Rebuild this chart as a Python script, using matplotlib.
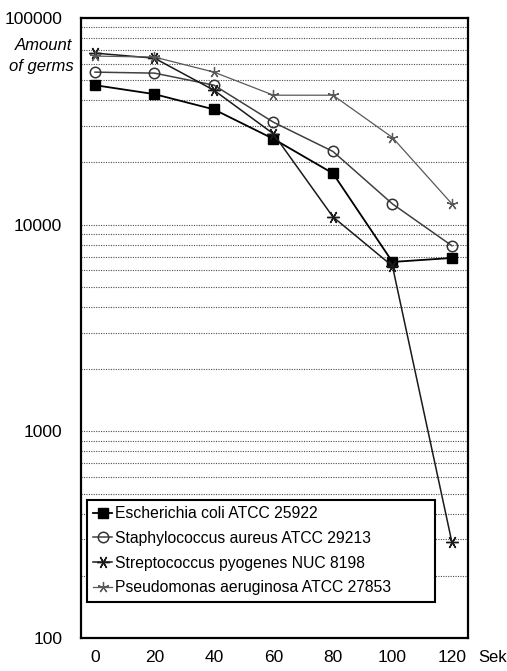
import matplotlib.pyplot as plt
from matplotlib.ticker import FixedLocator, LogLocator, NullFormatter

plt.rcParams["font.family"] = ["Liberation Sans", "DejaVu Sans"]

seconds = [0, 20, 40, 60, 80, 100, 120]

e_coli = [47300, 42800, 36100, 26000, 17700, 6600, 6900]
s_aureus = [54700, 54100, 47300, 31300, 22600, 12600, 7900]
s_pyogenes = [67600, 63900, 44700, 27500, 10900, 6300, 290]
p_aeruginosa = [65400, 64700, 54700, 42300, 42300, 26400, 12600]

labels = [
    "Escherichia coli ATCC 25922",
    "Staphylococcus aureus ATCC 29213",
    "Streptococcus pyogenes NUC 8198",
    "Pseudomonas aeruginosa ATCC 27853",
]

y_ticks = [100, 1000, 10000, 100000]


def main():
    fig = plt.figure(figsize=(5.07, 6.71), dpi=100)
    ax = fig.add_axes([0.1598, 0.0492, 0.7633, 0.924])

    ax.plot(seconds, e_coli, color="black", lw=1.3, marker="s", ms=7.5,
            label=labels[0])
    ax.plot(seconds, s_aureus, color="0.25", lw=1.1, marker="o", ms=7.5,
            mfc="none", mec="0.2", mew=1.1, label=labels[1])
    ax.plot(seconds, s_pyogenes, color="0.1", lw=1.1, marker=(6, 2, 90),
            ms=9, mew=1.0, label=labels[2])
    ax.plot(seconds, p_aeruginosa, color="0.35", lw=0.9, marker=(5, 2, 0),
            ms=8, mew=0.9, label=labels[3])

    ax.set_yscale("log")
    ax.set_ylim(100, 100000)
    ax.set_xlim(-4.7, 125.4)

    ax.yaxis.set_major_locator(FixedLocator(y_ticks))
    ax.set_yticklabels([str(t) for t in y_ticks])
    ax.yaxis.set_minor_locator(LogLocator(base=10, subs=range(2, 10)))
    ax.yaxis.set_minor_formatter(NullFormatter())
    ax.set_xticks(seconds)

    ax.tick_params(axis="y", which="both", length=0, pad=13.5, labelsize=12.5)
    ax.tick_params(axis="x", length=0, pad=9, labelsize=12.5)

    ax.yaxis.grid(True, which="both", ls=(0, (1, 1.2)), color="0.3", lw=0.8)
    ax.set_axisbelow(True)

    for spine in ax.spines.values():
        spine.set_linewidth(1.6)
        spine.set_color("black")

    # legend box: upper-left corner at the bbox top, stretched to its width
    leg = ax.legend(loc="upper left", bbox_to_anchor=(0.0155, 0.1226, 0.899, 0.1),
                    mode="expand", borderaxespad=0, fontsize=11.3,
                    handlelength=1.2, handletextpad=0.2, labelspacing=0.62,
                    borderpad=0.4, fancybox=False, framealpha=1,
                    edgecolor="black")
    leg.get_frame().set_linewidth(1.5)

    fig.text(72 / 507, 1 - 46 / 671, "Amount", ha="right", va="center",
             style="italic", fontsize=12)
    fig.text(74 / 507, 1 - 67 / 671, "of germs", ha="right", va="center",
             style="italic", fontsize=12)
    fig.text(478 / 507, 1 - 657 / 671, "Sek", ha="left", va="center",
             fontsize=12)

    fig.savefig("out.png", dpi=100)


if __name__ == "__main__":
    main()
